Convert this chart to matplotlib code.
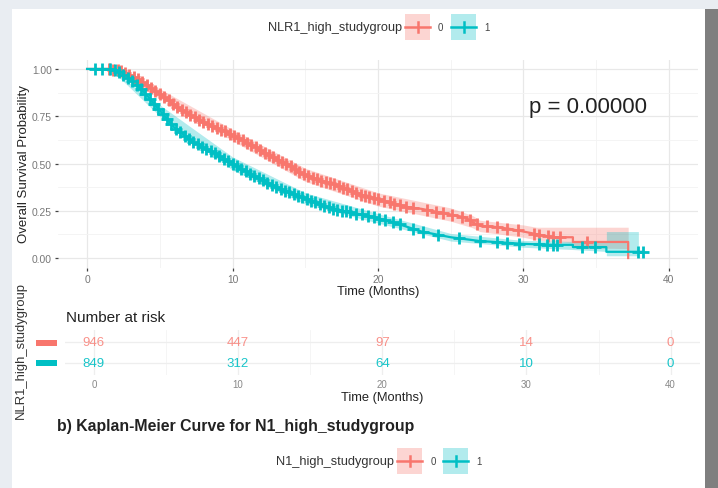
import numpy as np
import matplotlib.pyplot as plt
from matplotlib.patches import Rectangle
from matplotlib.lines import Line2D

plt.rcParams['font.family'] = ['Liberation Sans', 'DejaVu Sans']

RED = '#F8766D'
TEAL = '#00BFC4'

# Kaplan-Meier curves (months, survival)
t0 = [0, 1.5, 2, 2.5, 3, 3.5, 4, 4.5, 5, 5.5, 6, 6.5, 7, 7.5, 8, 8.5, 9, 9.5, 10,
      10.5, 11, 11.5, 12, 12.5, 13, 13.5, 14, 14.5, 15, 15.5, 16, 16.5, 17, 17.5,
      18, 18.5, 19, 19.5, 20, 21, 22, 23, 24, 25, 26, 26.5, 27, 28, 29, 30, 31, 32,
      33.4, 33.4, 37.2, 37.2]
s0 = [1.0, 1.0, 0.995, 0.985, 0.965, 0.945, 0.92, 0.895, 0.87, 0.84, 0.81, 0.785,
      0.76, 0.74, 0.72, 0.70, 0.685, 0.67, 0.65, 0.63, 0.61, 0.59, 0.565, 0.545,
      0.525, 0.505, 0.485, 0.46, 0.44, 0.425, 0.41, 0.40, 0.39, 0.375, 0.36, 0.345,
      0.33, 0.32, 0.31, 0.29, 0.27, 0.26, 0.245, 0.23, 0.215, 0.19, 0.17, 0.165,
      0.155, 0.14, 0.125, 0.11, 0.11, 0.085, 0.085, 0.0]
t1 = [0, 1.6, 2, 2.5, 3, 3.5, 4, 4.5, 5, 5.5, 6, 6.5, 7, 7.5, 8, 8.5, 9, 9.5, 10,
      10.5, 11, 11.5, 12, 12.5, 13, 13.5, 14, 14.5, 15, 15.5, 16, 16.5, 17, 17.5,
      18, 18.5, 19, 19.5, 20, 21, 22, 23, 24, 25, 26, 27, 28, 29, 30, 32,
      33.4, 33.4, 35.7, 35.7, 38.2]
s1 = [1.0, 1.0, 0.99, 0.97, 0.94, 0.91, 0.87, 0.825, 0.78, 0.735, 0.69, 0.66, 0.63,
      0.605, 0.585, 0.565, 0.545, 0.52, 0.50, 0.475, 0.455, 0.435, 0.415, 0.395,
      0.375, 0.36, 0.345, 0.33, 0.315, 0.30, 0.285, 0.27, 0.26, 0.25, 0.245, 0.235,
      0.23, 0.22, 0.21, 0.19, 0.165, 0.14, 0.125, 0.11, 0.10, 0.09, 0.085, 0.08,
      0.075, 0.07, 0.07, 0.058, 0.058, 0.033, 0.033]

# confidence bands
b0_t = [0, 1.5, 5, 10, 15, 20, 25, 26.5, 27, 30, 30.9, 33.4, 33.4, 37.2]
b0_lo = [1.0, 1.0, 0.845, 0.62, 0.405, 0.275, 0.195, 0.16, 0.14, 0.11, 0.095, 0.08, 0.055, 0.05]
b0_hi = [1.0, 1.0, 0.895, 0.68, 0.475, 0.345, 0.265, 0.225, 0.20, 0.175, 0.163, 0.163, 0.163, 0.163]
b1_t = [0, 1.6, 5, 10, 15, 20, 25, 30, 33.4, 35.7, 35.7, 37.9]
b1_lo = [1.0, 1.0, 0.75, 0.465, 0.285, 0.185, 0.09, 0.057, 0.045, 0.035, 0.012, 0.012]
b1_hi = [1.0, 1.0, 0.81, 0.535, 0.345, 0.235, 0.13, 0.093, 0.088, 0.085, 0.14, 0.14]

# censor marks
c0 = [1.5, 1.8, 2.1, 2.3, 2.6, 2.9, 3.2, 3.5, 3.8, 4.1, 4.4, 4.7, 5.0, 5.3, 5.6,
      5.9, 6.2, 6.5, 6.8, 7.1, 7.4, 7.7, 8.0, 8.3, 8.6, 8.9, 9.2, 9.5, 9.8, 10.1,
      10.4, 10.7, 11.0, 11.3, 11.6, 11.9, 12.2, 12.5, 12.8, 13.1, 13.4, 13.7, 14.0,
      14.3, 14.6, 14.9, 15.2, 15.5, 15.8, 16.1, 16.4, 16.7, 17.0, 17.3, 17.6, 17.9,
      18.2, 18.5, 18.8, 19.1, 19.4, 19.7, 20.0, 20.4, 20.8, 21.1, 21.5, 21.9, 22.4,
      23.4, 24.0, 24.5, 25.1, 25.8, 26.3, 26.8, 27.5, 28.2, 28.9, 29.6, 30.7, 31.1,
      31.7, 32.0, 32.5, 34.4]
c1 = [0.55, 1.0, 1.6, 1.9, 2.2, 2.5, 2.8, 3.1, 3.4, 3.7, 4.0, 4.3, 4.6, 4.9, 5.2,
      5.5, 5.8, 6.1, 6.4, 6.7, 7.0, 7.3, 7.6, 7.9, 8.2, 8.5, 8.8, 9.1, 9.4, 9.7,
      10.0, 10.3, 10.6, 10.9, 11.2, 11.5, 11.8, 12.1, 12.4, 12.7, 13.0, 13.3, 13.6,
      13.9, 14.2, 14.5, 14.8, 15.1, 15.4, 15.7, 16.0, 16.3, 16.6, 16.9, 17.2, 17.5,
      17.8, 18.1, 18.5, 18.9, 19.3, 19.7, 20.1, 20.5, 21.0, 21.5, 22.4, 23.1, 24.1,
      25.6, 27.0, 28.2, 28.9, 29.7, 31.1, 31.6, 32.0, 32.3, 34.0, 34.9, 37.9, 38.2]

# number at risk
risk_times = [0, 10, 20, 30, 40]
risk0 = [946, 447, 97, 14, 0]
risk1 = [849, 312, 64, 10, 0]

W, H = 718, 489
fig = plt.figure(figsize=(W / 100, H / 100), dpi=100, facecolor='#e9edf2')


def px(l, t, r, b):
    return [l / W, 1 - b / H, (r - l) / W, (b - t) / H]


def frect(l, t, r, b, **kw):
    fig.add_artist(Rectangle((l / W, 1 - b / H), (r - l) / W, (b - t) / H,
                             transform=fig.transFigure, **kw))


def ftext(x, y, s, **kw):
    fig.text(x / W, 1 - y / H, s, **kw)


frect(12, 10, 705, 489, facecolor='white', edgecolor='none', zorder=-5)
frect(705, 10, 718, 489, facecolor='#7f7f7f', edgecolor='none', zorder=-5)


def key(l, t, color):
    frect(l, t, l + 25, t + 26, facecolor=color, alpha=0.3, edgecolor='none')
    yc = 1 - (t + 13) / H
    fig.add_artist(Line2D([l / W, (l + 25) / W], [yc, yc], color=color, lw=1.8,
                          transform=fig.transFigure))
    fig.add_artist(Line2D([(l + 12.5) / W] * 2, [1 - (t + 8) / H, 1 - (t + 18) / H],
                          color=color, lw=1.8, transform=fig.transFigure))


# top legend
ftext(402, 28, 'NLR1_high_studygroup', fontsize=9.2, color='#333333', ha='right', va='center')
key(405, 15, RED)
ftext(440, 28, '0', fontsize=7, color='#444444', ha='center', va='center')
key(451, 15, TEAL)
ftext(487, 28, '1', fontsize=7, color='#444444', ha='center', va='center')

# main KM plot
ax = fig.add_axes(px(58, 60.5, 698, 268.5))
ax.set_xlim(-2, 42)
ax.set_ylim(-0.05, 1.05)
ax.fill_between(b0_t, b0_lo, b0_hi, color=RED, alpha=0.3, lw=0)
ax.fill_between(b1_t, b1_lo, b1_hi, color=TEAL, alpha=0.3, lw=0)
ax.plot(t0, s0, color=RED, lw=1.6)
ax.plot(t1, s1, color=TEAL, lw=1.6)
ax.plot(c0, np.interp(c0, t0, s0), '+', color=RED, ms=8, mew=2.0)
ax.plot(c1, np.interp(c1, t1, s1), '+', color=TEAL, ms=8, mew=2.0)

ax.set_xticks([0, 10, 20, 30, 40])
ax.set_xticks([5, 15, 25, 35], minor=True)
ax.set_yticks([0, 0.25, 0.5, 0.75, 1.0])
ax.set_yticks([0.125, 0.375, 0.625, 0.875], minor=True)
ax.set_yticklabels(['0.00', '0.25', '0.50', '0.75', '1.00'])
ax.grid(which='major', color='#e8e8e8', lw=0.9)
ax.grid(which='minor', color='#f3f3f3', lw=0.6)
ax.set_axisbelow(True)
for sp in ax.spines.values():
    sp.set_visible(False)
ax.tick_params(which='major', length=2.5, width=0.9, color='#444444',
               labelsize=7.4, labelcolor='#777777', pad=2)
ax.tick_params(which='minor', length=0)
ax.set_xlabel('Time (Months)', fontsize=9.3, color='#222222', labelpad=1)
ax.set_ylabel('Overall Survival Probability', fontsize=9.5, color='#222222', labelpad=1)
ax.text(30.4, 0.80, 'p = 0.00000', fontsize=16, va='center', color='#222222')

# risk table
ftext(66, 318, 'Number at risk', fontsize=11, color='#222222', va='center')
rx = fig.add_axes(px(65, 331, 699.5, 376))
rx.set_xlim(-2, 42)
rx.set_ylim(0.4, 2.6)
for x, a, b in zip(risk_times, risk0, risk1):
    rx.text(x, 2, str(a), color=RED, fontsize=9.5, ha='center', va='center', alpha=0.8)
    rx.text(x, 1, str(b), color=TEAL, fontsize=9.5, ha='center', va='center', alpha=0.9)
rx.set_xticks([0, 10, 20, 30, 40])
rx.set_xticks([5, 15, 25, 35], minor=True)
rx.set_yticks([1, 2])
rx.set_yticklabels([])
rx.grid(which='major', color='#eeeeee', lw=0.9)
rx.grid(which='minor', color='#f4f4f4', lw=0.6)
rx.set_axisbelow(True)
for sp in rx.spines.values():
    sp.set_visible(False)
rx.tick_params(which='both', length=0, labelsize=7, labelcolor='#888888', pad=3)
rx.set_xlabel('Time (Months)', fontsize=9.3, color='#222222', labelpad=1)

frect(36, 340.5, 57, 346.5, facecolor=RED, edgecolor='none')
frect(36, 361, 57, 367, facecolor=TEAL, edgecolor='none')
ftext(21, 351, 'NLR1_high_studygroup', fontsize=9.4, color='#333333', rotation=90,
      ha='center', va='center')

# caption and next legend
ftext(57, 427, 'b) Kaplan-Meier Curve for N1_high_studygroup', fontsize=11.4,
      fontweight='bold', color='#222222', va='center')
ftext(394, 462, 'N1_high_studygroup', fontsize=9.2, color='#333333', ha='right', va='center')
key(397, 449, RED)
ftext(433, 462, '0', fontsize=7, color='#444444', ha='center', va='center')
key(443, 449, TEAL)
ftext(479, 462, '1', fontsize=7, color='#444444', ha='center', va='center')

plt.savefig('out.png', dpi=100, facecolor=fig.get_facecolor())
